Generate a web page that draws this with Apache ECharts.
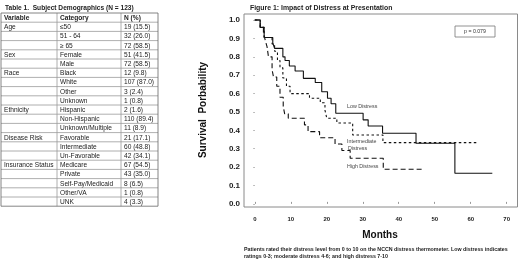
<!DOCTYPE html>
<html>
<head>
<meta charset="utf-8">
<script src="https://cdn.jsdelivr.net/npm/echarts@6/dist/echarts.min.js"></script>
<style>
  html, body { margin: 0; padding: 0; background: #fff; }
  #chart { width: 520px; height: 262px; }
</style>
</head>
<body>
<div id="chart"></div>
<script>
// table 1
const tableHeader = ["Variable", "Category", "N (%)"];
const tableVariables = ["Age", "", "", "Sex", "", "Race", "", "", "", "Ethnicity", "", "",
  "Disease Risk", "", "", "Insurance Status", "", "", "", ""];
const tableCategories = ["\u226450", "51 - 64", "\u2265 65", "Female", "Male", "Black", "White", "Other", "Unknown",
  "Hispanic", "Non-Hispanic", "Unknown/Multiple", "Favorable", "Intermediate", "Un-Favorable",
  "Medicare", "Private", "Self-Pay/Medicaid", "Other/VA", "UNK"];
const tableValues = ["19 (15.5)", "32 (26.0)", "72 (58.5)", "51 (41.5)", "72 (58.5)", "12 (9.8)", "107 (87.0)",
  "3 (2.4)", "1 (0.8)", "2 (1.6)", "110 (89.4)", "11 (8.9)", "21 (17.1)", "60 (48.8)", "42 (34.1)",
  "67 (54.5)", "43 (35.0)", "8 (6.5)", "1 (0.8)", "4 (3.3)"];

// figure 1: [months, survival] at each drop
const lowDistress = [[0, 1.0], [1.5, 0.96], [2.6, 0.905], [5.0, 0.875], [5.5, 0.846], [7.8, 0.80], [8.4, 0.78],
  [9.6, 0.75], [11.2, 0.723], [13.5, 0.683], [16.8, 0.66], [18.6, 0.61], [20.2, 0.575], [21.2, 0.545],
  [22.5, 0.493], [30.1, 0.457], [31.5, 0.424], [35.5, 0.384], [44.8, 0.33], [55.6, 0.167], [66, 0.167]];
const intermediateDistress = [[0, 1.0], [1.5, 0.96], [2.6, 0.905], [4.8, 0.87], [5.5, 0.83], [6.3, 0.78],
  [7.0, 0.74], [7.8, 0.685], [8.8, 0.64], [9.8, 0.60], [15.2, 0.575], [18.2, 0.55], [19.5, 0.51],
  [20.0, 0.466], [22.8, 0.44], [27.2, 0.375], [35.6, 0.333], [62, 0.333]];
const highDistress = [[0, 1.0], [1.5, 0.96], [2.4, 0.93], [2.9, 0.89], [3.4, 0.855], [3.8, 0.80], [4.8, 0.73],
  [5.2, 0.69], [6.1, 0.64], [7.0, 0.58], [7.9, 0.53], [8.3, 0.49], [9.3, 0.466], [13.8, 0.43], [14.8, 0.393],
  [18.0, 0.36], [22.3, 0.326], [24.2, 0.29], [26.5, 0.248], [35.7, 0.188], [47, 0.188]];
const monthTicks = [0, 10, 20, 30, 40, 50, 60, 70];
const survivalTicks = [0, 0.1, 0.2, 0.3, 0.4, 0.5, 0.6, 0.7, 0.8, 0.9, 1.0];
const pValue = "p = 0.079";

const chart = echarts.init(document.getElementById("chart"));

// table drawn with graphic elements
const tblFont = "Liberation Sans";
const tblTop = 13, rowH = 9.2;
const colX = [1, 57, 121, 158];
const tableRows = [tableHeader].concat(tableVariables.map((v, i) => [v, tableCategories[i], tableValues[i]]));
const tblBottom = tblTop + rowH * tableRows.length;
const tableGraphics = [];
tableRows.forEach((row, r) => {
  const y = tblTop + r * rowH;
  if (r > 0) {
    tableGraphics.push({ type: "line", shape: { x1: colX[0], y1: y, x2: colX[3], y2: y },
      style: { stroke: "#9a9a9a", lineWidth: 0.8 } });
  }
  row.forEach((txt, c) => {
    if (!txt) return;
    tableGraphics.push({ type: "text", x: colX[c] + 3, y: y + rowH / 2 + 0.5,
      style: { text: txt, fill: "#222", fontSize: 6.6, fontFamily: tblFont,
        fontWeight: r === 0 ? "bold" : "normal", verticalAlign: "middle" } });
  });
});
colX.forEach((x, i) => {
  tableGraphics.push({ type: "line", shape: { x1: x, y1: tblTop, x2: x, y2: tblBottom },
    style: { stroke: i === 0 || i === 3 ? "#666" : "#9a9a9a", lineWidth: 0.8 } });
});
tableGraphics.push({ type: "line", shape: { x1: colX[0], y1: tblTop, x2: colX[3], y2: tblTop },
  style: { stroke: "#666", lineWidth: 0.8 } });
tableGraphics.push({ type: "line", shape: { x1: colX[0], y1: tblBottom, x2: colX[3], y2: tblBottom },
  style: { stroke: "#666", lineWidth: 0.8 } });

const lbl = (text, x, y) => ({ type: "text", x: x, y: y,
  style: { text: text, fill: "#444", fontSize: 5.3, fontFamily: "Liberation Sans", verticalAlign: "middle" } });

const option = {
  animation: false,
  backgroundColor: "#fff",
  textStyle: { fontFamily: "Liberation Sans" },
  title: [
    { text: "Table 1.  Subject Demographics (N = 123)", left: 0, top: 0,
      textStyle: { fontSize: 6.6, fontWeight: "bold", color: "#222" } },
    { text: "Figure 1: Impact of Distress at Presentation", left: 245, top: 0,
      textStyle: { fontSize: 6.9, fontWeight: "bold", color: "#222" } }
  ],
  grid: { left: 244, top: 14, right: 2.5, bottom: 55, show: true, borderColor: "#8a8a8a", borderWidth: 1 },
  xAxis: {
    type: "value", min: -3, max: 73,
    axisLine: { show: false },
    splitLine: { show: false },
    axisTick: { show: true, inside: true, length: 2, customValues: monthTicks, lineStyle: { color: "#999" } },
    axisLabel: { customValues: monthTicks, margin: 9, fontSize: 6, fontWeight: "bold", color: "#222" }
  },
  yAxis: {
    type: "value", min: -0.017, max: 1.033,
    axisLine: { show: false },
    splitLine: { show: false },
    axisTick: { show: true, length: 1.5, customValues: survivalTicks, lineStyle: { color: "#aaa" } },
    axisLabel: { customValues: survivalTicks, margin: 4, fontSize: 8, fontWeight: "bold", color: "#222",
      formatter: (v) => v.toFixed(1) }
  },
  series: [
    { name: "Low Distress", type: "line", step: "end", symbol: "none", data: lowDistress,
      lineStyle: { color: "#111", width: 1.1, type: "solid" } },
    { name: "Intermediate Distress", type: "line", step: "end", symbol: "none", data: intermediateDistress,
      lineStyle: { color: "#111", width: 1.1, type: [2.5, 2.5] } },
    { name: "High Distress", type: "line", step: "end", symbol: "none", data: highDistress,
      lineStyle: { color: "#111", width: 1.1, type: [5, 3] } }
  ],
  graphic: tableGraphics.concat([
    lbl("Low Distress", 347, 106.5),
    lbl("Intermediate", 347, 141.5),
    lbl("Distress", 348, 149),
    lbl("High Distress", 347, 166.5),
    { type: "rect", shape: { x: 455, y: 26, width: 40, height: 11 },
      style: { fill: "#fff", stroke: "#777", lineWidth: 0.8 } },
    { type: "text", x: 475, y: 31.5,
      style: { text: pValue, fill: "#333", fontSize: 5.2, align: "center", verticalAlign: "middle" } },
    { type: "text", x: 203, y: 110, rotation: Math.PI / 2,
      style: { text: "Survival  Porbability", fill: "#111", fontSize: 10, fontWeight: "bold",
        fontFamily: "Liberation Sans", align: "center", verticalAlign: "middle" } },
    { type: "text", x: 380, y: 235,
      style: { text: "Months", fill: "#111", fontSize: 10, fontWeight: "bold",
        fontFamily: "Liberation Sans", align: "center", verticalAlign: "middle" } },
    { type: "text", x: 244, y: 250,
      style: { text: "Patients rated their distress level from 0 to 10 on the NCCN distress thermometer. Low distress indicates",
        fill: "#222", fontSize: 5.3, fontWeight: "bold", verticalAlign: "middle" } },
    { type: "text", x: 244, y: 257,
      style: { text: "ratings 0-3; moderate distress 4-6; and high distress 7-10",
        fill: "#222", fontSize: 5.3, fontWeight: "bold", verticalAlign: "middle" } }
  ])
};
chart.setOption(option);
</script>
</body>
</html>
